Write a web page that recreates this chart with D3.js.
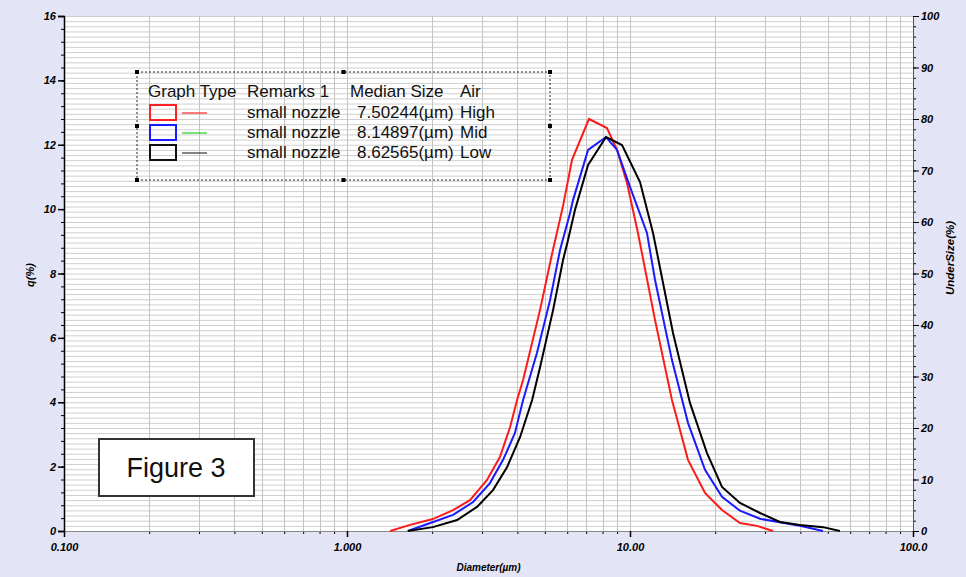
<!DOCTYPE html>
<html>
<head>
<meta charset="utf-8">
<script src="https://cdn.jsdelivr.net/npm/d3@7"></script>
<style>
  body { margin: 0; background: #e3e4f6; }
  svg { display: block; font-family: "Liberation Sans", Arial, sans-serif; }
  .tick text { font-weight: bold; font-style: italic; font-size: 11px; }
</style>
</head>
<body>
<div id="chart"></div>
<script>
// series data: diameter (um) and q (%)
const redDiam = [1.42, 1.67, 2.01, 2.37, 2.72, 3.12, 3.47, 3.77, 3.99, 4.19, 4.81, 5.30, 5.80, 6.24, 7.16, 8.29, 9.00, 9.76, 10.67, 12.26, 14.07, 16.03, 18.41, 21.14, 24.47, 28.11, 32.02];
const redQ    = [0, 0.19, 0.37, 0.65, 0.96, 1.58, 2.30, 3.23, 4.07, 4.69, 6.87, 8.60, 10.10, 11.53, 12.80, 12.52, 11.84, 10.81, 9.26, 6.55, 4.07, 2.21, 1.18, 0.65, 0.25, 0.16, 0];

const blueDiam = [1.64, 1.97, 2.37, 2.79, 3.20, 3.56, 3.92, 4.19, 4.69, 5.22, 5.66, 6.14, 6.29, 7.11, 8.23, 9.00, 10.00, 11.48, 12.26, 14.07, 16.03, 18.41, 21.14, 24.47, 28.80, 39.88, 48.08];
const blueQ    = [0, 0.25, 0.50, 0.90, 1.49, 2.21, 3.04, 4.07, 5.53, 7.18, 8.73, 9.88, 10.28, 11.84, 12.24, 11.84, 10.69, 9.26, 7.80, 5.31, 3.36, 1.90, 1.06, 0.63, 0.38, 0.16, 0];

const blackDiam = [1.64, 2.01, 2.45, 2.88, 3.28, 3.68, 4.09, 4.51, 4.81, 5.35, 5.80, 6.04, 6.39, 7.11, 8.23, 9.37, 10.85, 12.06, 12.46, 14.19, 16.29, 18.71, 21.14, 24.47, 28.80, 33.88, 39.88, 48.08, 55.21];
const blackQ    = [0, 0.12, 0.34, 0.75, 1.27, 1.99, 2.92, 4.07, 5.09, 6.87, 8.42, 9.04, 9.97, 11.37, 12.24, 11.99, 10.84, 9.26, 8.64, 6.15, 3.98, 2.42, 1.37, 0.87, 0.56, 0.28, 0.19, 0.12, 0];

// legend table
const legendHeaders = ["Graph Type", "Remarks 1", "Median Size", "Air"];
const remarks = ["small nozzle", "small nozzle", "small nozzle"];
const medians = ["7.50244(\u00b5m)", "8.14897(\u00b5m)", "8.62565(\u00b5m)"];
const airLevels = ["High", "Mid", "Low"];

// tick labels
const xTickValues = [0.1, 1, 10, 100];
const xTickLabels = ["0.100", "1.000", "10.00", "100.0"];
const qTickValues = [0, 2, 4, 6, 8, 10, 12, 14, 16];
const underTickValues = [0, 10, 20, 30, 40, 50, 60, 70, 80, 90, 100];

const width = 966;
const height = 577;
const margin = {left: 64, right: 53, top: 16, bottom: 46};

const boxColors = ["#ff2020", "#1a1aff", "#111111"];
const lineColors = ["#ff2020", "#22cc22", "#333333"];
const curveColors = ["#ff1a1a", "#1a1aff", "#000000"];

const svg = d3.select('#chart')
    .append('svg')
    .attr('width', width)
    .attr('height', height);

svg.append('rect')
    .attr('width', width)
    .attr('height', height)
    .attr('fill', '#e3e4f6');

const x = d3.scaleLog()
    .domain([0.1, 100])
    .range([margin.left, width - margin.right]);

const y = d3.scaleLinear()
    .domain([0, 16])
    .range([height - margin.bottom, margin.top]);

const yRight = d3.scaleLinear()
    .domain([0, 100])
    .range([height - margin.bottom, margin.top]);

// plot area
svg.append('rect')
    .attr('x', x(0.1))
    .attr('y', y(16))
    .attr('width', x(100) - x(0.1))
    .attr('height', y(0) - y(16))
    .attr('fill', '#ffffff');

// grid: every 1% on the right scale, log steps on x
const hGrid = d3.range(1, 101);
svg.append('g')
    .selectAll('line')
    .data(hGrid)
    .enter()
    .append('line')
    .attr('x1', x(0.1))
    .attr('x2', x(100))
    .attr('y1', d => yRight(d) + 0.5)
    .attr('y2', d => yRight(d) + 0.5)
    .attr('stroke', '#cfcfcf')
    .attr('stroke-width', 1);

const vGrid = [];
[0.1, 1, 10].forEach(dec => {
    for (let k = 1; k <= 9; k++) vGrid.push(dec * k);
});
vGrid.push(100);
svg.append('g')
    .selectAll('line')
    .data(vGrid)
    .enter()
    .append('line')
    .attr('x1', d => Math.round(x(d)) + 0.5)
    .attr('x2', d => Math.round(x(d)) + 0.5)
    .attr('y1', y(16))
    .attr('y2', y(0))
    .attr('stroke', '#c4c4c4')
    .attr('stroke-width', 1);

// axes
const bottom = height - margin.bottom;

svg.append('g')
    .attr('transform', `translate(0,${bottom})`)
    .call(d3.axisBottom(x).tickValues(vGrid).tickSize(3).tickFormat(''))
    .call(g => g.select('.domain').remove());

svg.append('g')
    .attr('transform', `translate(0,${bottom})`)
    .call(d3.axisBottom(x).tickValues(xTickValues).tickSize(6).tickPadding(6)
        .tickFormat((d, i) => xTickLabels[i]))
    .call(g => g.select('.domain').attr('stroke', '#888'))
    .call(g => g.selectAll('.tick line').attr('stroke-width', 1.5));

svg.append('g')
    .attr('transform', `translate(${margin.left},0)`)
    .call(d3.axisLeft(y).tickValues(d3.range(0, 16.01, 0.4)).tickSize(3).tickFormat(''))
    .call(g => g.select('.domain').remove());

svg.append('g')
    .attr('transform', `translate(${margin.left},0)`)
    .call(d3.axisLeft(y).tickValues(qTickValues).tickSize(6).tickPadding(2))
    .call(g => g.select('.domain').attr('stroke-width', 1.5))
    .call(g => g.selectAll('.tick line').attr('stroke-width', 1.5));

const rightX = width - margin.right;
svg.append('g')
    .attr('transform', `translate(${rightX},0)`)
    .call(d3.axisRight(yRight).tickValues(d3.range(0, 100.1, 2)).tickSize(3).tickFormat(''))
    .call(g => g.select('.domain').remove());

svg.append('g')
    .attr('transform', `translate(${rightX},0)`)
    .call(d3.axisRight(yRight).tickValues(underTickValues).tickSize(6).tickPadding(2))
    .call(g => g.select('.domain').attr('stroke', '#555'));

// axis titles
svg.append('text')
    .attr('x', (x(0.1) + x(100)) / 2)
    .attr('y', 571)
    .attr('text-anchor', 'middle')
    .style('font-size', '10px')
    .style('font-weight', 'bold')
    .style('font-style', 'italic')
    .text('Diameter(\u00b5m)');

svg.append('text')
    .attr('transform', 'translate(34,275) rotate(-90)')
    .attr('text-anchor', 'middle')
    .style('font-size', '11px')
    .style('font-weight', 'bold')
    .style('font-style', 'italic')
    .text('q(%)');

svg.append('text')
    .attr('transform', 'translate(954,258) rotate(-90)')
    .attr('text-anchor', 'middle')
    .style('font-size', '11.5px')
    .style('font-weight', 'bold')
    .style('font-style', 'italic')
    .text('UnderSize(%)');

// curves
const line = d3.line()
    .x(d => x(d[0]))
    .y(d => y(d[1]));

const series = [
    d3.zip(redDiam, redQ),
    d3.zip(blueDiam, blueQ),
    d3.zip(blackDiam, blackQ)
];

svg.append('g')
    .selectAll('path')
    .data(series)
    .enter()
    .append('path')
    .attr('d', line)
    .attr('fill', 'none')
    .attr('stroke', (d, i) => curveColors[i])
    .attr('stroke-width', 2);

// legend box
const lg = svg.append('g');
const lx0 = 137, ly0 = 72, lx1 = 550, ly1 = 180;
lg.append('rect')
    .attr('x', lx0)
    .attr('y', ly0)
    .attr('width', lx1 - lx0)
    .attr('height', ly1 - ly0)
    .attr('fill', 'none')
    .attr('stroke', '#222')
    .attr('stroke-dasharray', '2,2');

const handles = [
    [lx0, ly0], [(lx0 + lx1) / 2, ly0], [lx1, ly0],
    [lx0, (ly0 + ly1) / 2], [lx1, (ly0 + ly1) / 2],
    [lx0, ly1], [(lx0 + lx1) / 2, ly1], [lx1, ly1]
];
lg.selectAll('rect.handle')
    .data(handles)
    .enter()
    .append('rect')
    .attr('class', 'handle')
    .attr('x', d => d[0] - 2)
    .attr('y', d => d[1] - 2)
    .attr('width', 4)
    .attr('height', 4)
    .attr('fill', '#000');

const colX = [148, 247, 350, 460];
lg.selectAll('text.head')
    .data(legendHeaders)
    .enter()
    .append('text')
    .attr('class', 'head')
    .attr('x', (d, i) => colX[i])
    .attr('y', 97)
    .style('font-size', '17px')
    .attr('fill', '#111')
    .text(d => d);

const rowY = [113, 133, 153];
airLevels.forEach((air, i) => {
    lg.append('rect')
        .attr('x', 150)
        .attr('y', rowY[i] - 8)
        .attr('width', 26)
        .attr('height', 15)
        .attr('fill', 'none')
        .attr('stroke', boxColors[i])
        .attr('stroke-width', 2);
    lg.append('line')
        .attr('x1', 182)
        .attr('x2', 207)
        .attr('y1', rowY[i])
        .attr('y2', rowY[i])
        .attr('stroke', lineColors[i])
        .attr('stroke-width', 1.2);
    lg.append('text')
        .attr('x', 247)
        .attr('y', rowY[i] + 5)
        .style('font-size', '17px')
        .attr('fill', '#111')
        .text(remarks[i]);
    lg.append('text')
        .attr('x', 357)
        .attr('y', rowY[i] + 5)
        .style('font-size', '17px')
        .attr('fill', '#111')
        .text(medians[i]);
    lg.append('text')
        .attr('x', 460)
        .attr('y', rowY[i] + 5)
        .style('font-size', '17px')
        .attr('fill', '#111')
        .text(air);
});

// figure label
svg.append('rect')
    .attr('x', 99)
    .attr('y', 439)
    .attr('width', 155)
    .attr('height', 57)
    .attr('fill', '#fff')
    .attr('stroke', '#333')
    .attr('stroke-width', 2);

svg.append('text')
    .attr('x', 176)
    .attr('y', 477)
    .attr('text-anchor', 'middle')
    .style('font-size', '27px')
    .attr('fill', '#111')
    .text('Figure 3');
</script>
</body>
</html>
